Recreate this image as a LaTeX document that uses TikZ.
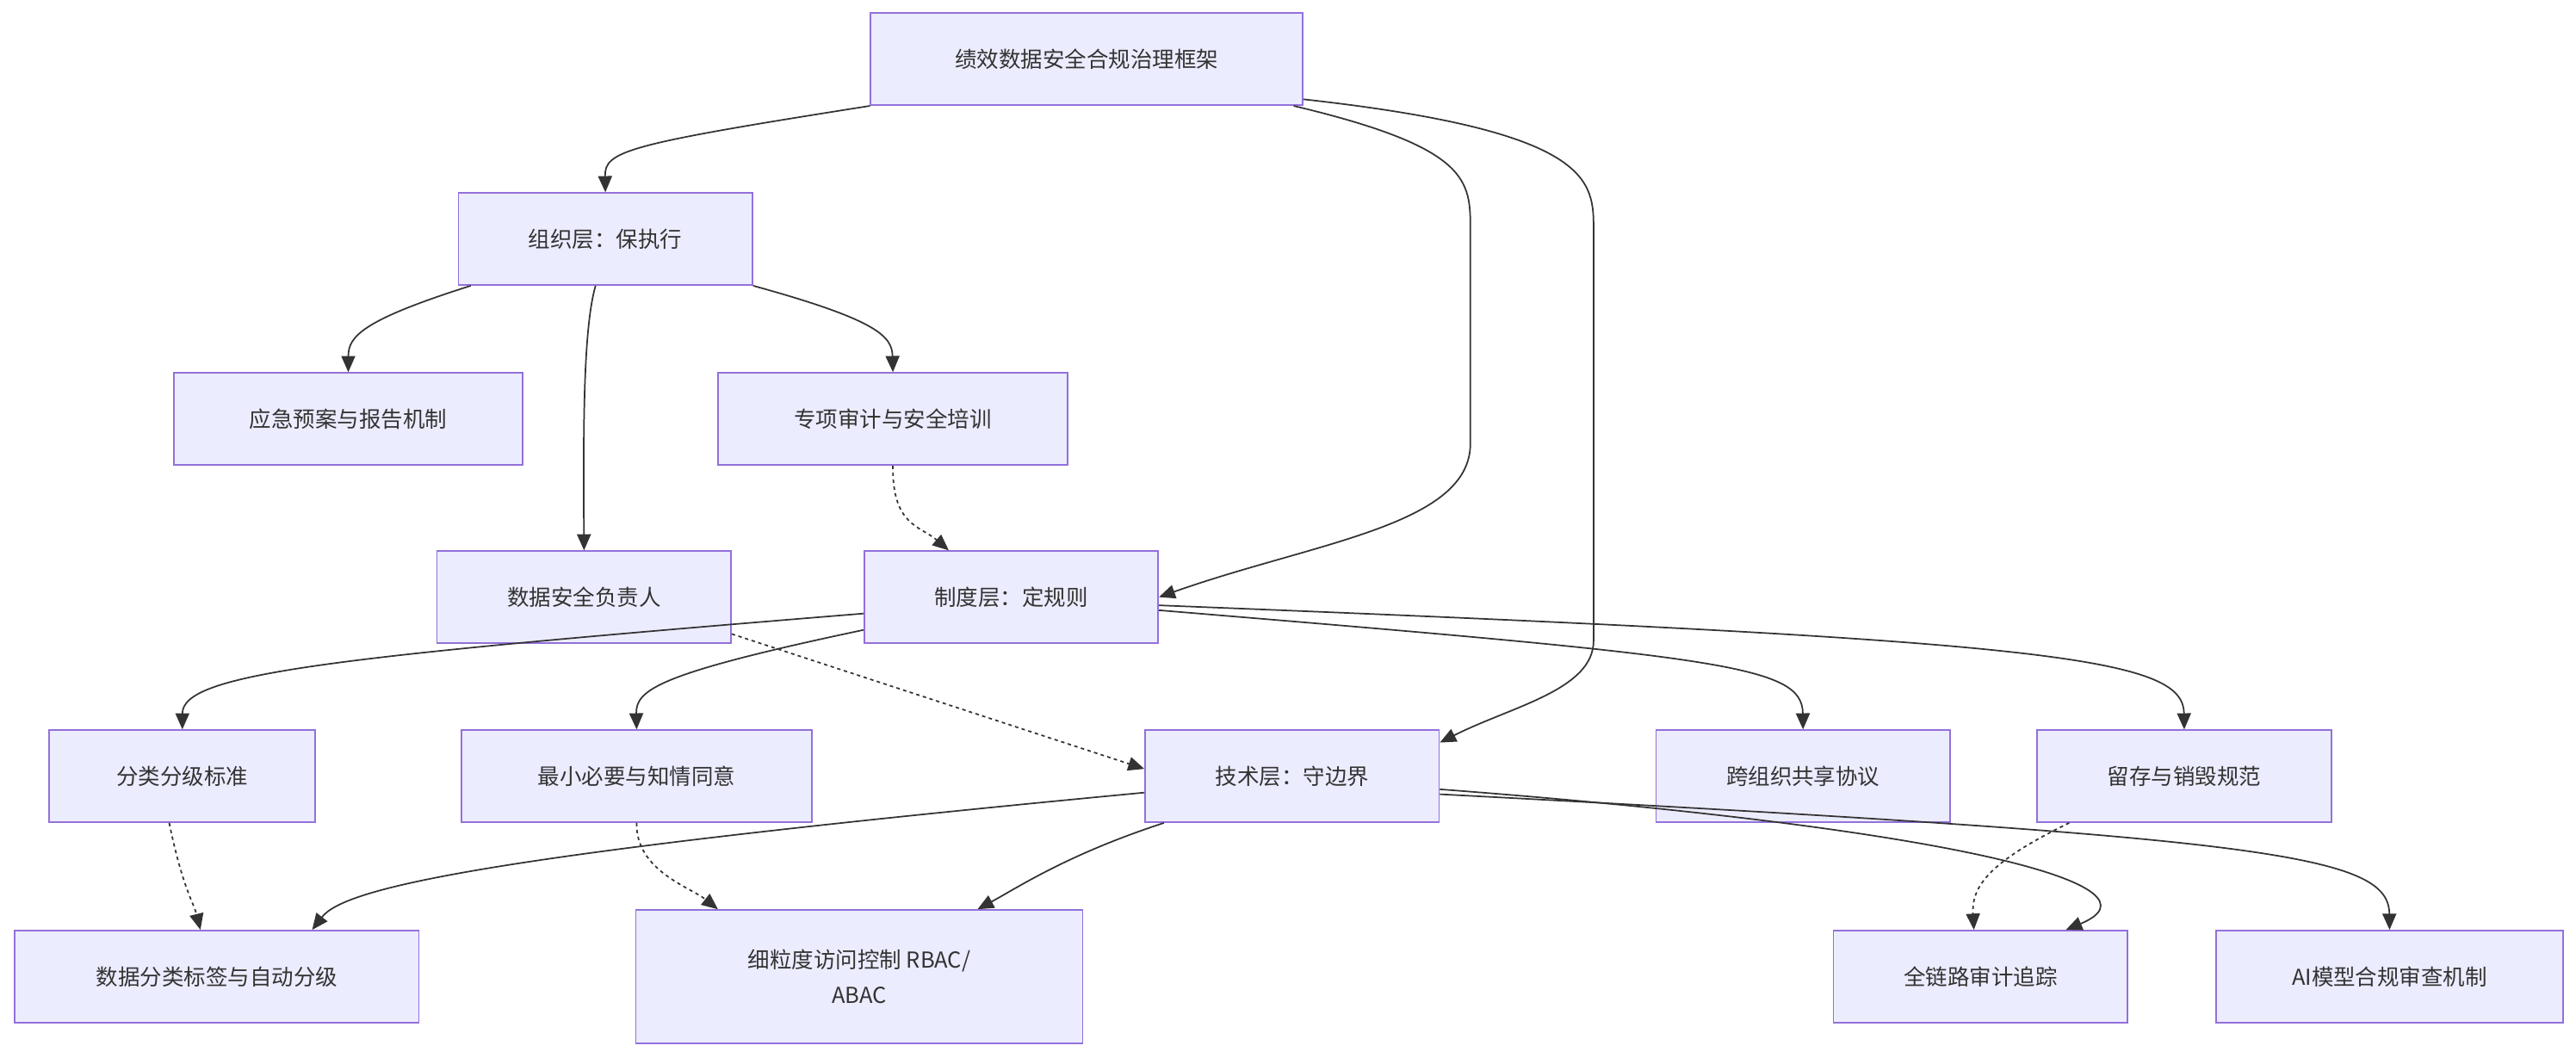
\documentclass[tikz,border=0pt]{standalone}
\usepackage{fontspec}
\setmainfont{Noto Sans CJK SC}
\usetikzlibrary{arrows.meta}
\definecolor{nfill}{HTML}{ECECFF}
\definecolor{nborder}{HTML}{9370DB}
\definecolor{ln}{HTML}{333333}
\begin{document}
\begin{tikzpicture}[x=0.05cm,y=-0.05cm,
  box/.style={draw=nborder,fill=nfill,line width=1.3pt,minimum height=2.8cm,inner sep=0pt,font=\fontsize{19}{30}\selectfont,text=ln,align=center},
  edge/.style={draw=ln,line width=1.3pt,-{Triangle[length=14pt,width=12pt]}},
  dot/.style={edge,dash pattern=on 3pt off 3pt}]
\fill[white] (0,0) rectangle (1568,644);
\useasboundingbox (0,0) rectangle (1568,644);
\node[box,minimum width=13.15cm] (top) at (661.5,36) {绩效数据安全合规治理框架};
\node[box,minimum width=8.95cm] (org) at (368.5,145.5) {组织层：保执行};
\node[box,minimum width=10.6cm] (emerg) at (212,255) {应急预案与报告机制};
\node[box,minimum width=10.65cm] (audit) at (543.5,255) {专项审计与安全培训};
\node[box,minimum width=8.95cm] (dsr) at (355.5,363.5) {数据安全负责人};
\node[box,minimum width=8.95cm] (sys) at (615.5,363.5) {制度层：定规则};
\node[box,minimum width=8.1cm] (class) at (111,472.5) {分类分级标准};
\node[box,minimum width=10.65cm] (min) at (387.5,472.5) {最小必要与知情同意};
\node[box,minimum width=8.95cm] (tech) at (786.5,472.5) {技术层：守边界};
\node[box,minimum width=8.95cm] (share) at (1097.5,472.5) {跨组织共享协议};
\node[box,minimum width=8.95cm] (retain) at (1329.5,472.5) {留存与销毁规范};
\node[box,minimum width=12.3cm] (tag) at (132,594.5) {数据分类标签与自动分级};
\node[box,minimum width=13.6cm,minimum height=4.05cm] (fine) at (523,594.5) {细粒度访问控制 RBAC/\\ABAC};
\node[box,minimum width=8.95cm] (trace) at (1205.5,594.5) {全链路审计追踪};
\node[box,minimum width=10.55cm] (ai) at (1454.5,594.5) {AI模型合规审查机制};

\draw[edge] (top.south west) .. controls (380,88) and (368,92) .. (org.north);
\draw[edge] ([xshift=-0.3cm]top.south east) .. controls (895,90) and (895,110) .. (895,140) -- (895,270) .. controls (895,320) and (800,330) .. (sys.east);
\draw[edge] ([yshift=0.2cm]top.south east) .. controls (970,80) and (970,110) .. (970,140) -- (970,390) .. controls (970,420) and (920,430) .. ([yshift=-0.4cm]tech.north east);
\draw[edge] ([xshift=0.4cm]org.south west) .. controls (220,195) and (212,205) .. (emerg.north);
\draw[edge] (org.south east) .. controls (535,195) and (543,205) .. (audit.north);
\draw[edge] ([xshift=-0.3cm]org.south) .. controls (355,200) and (355,260) .. ([xshift=0cm]dsr.north);
\draw[dot] (audit.south) .. controls (543,320) and (560,320) .. ([xshift=-1.9cm]sys.north);
\draw[dot] ([yshift=0.3cm]dsr.south east) -- ([yshift=-1.2cm]tech.north west);
\draw[edge] ([yshift=-0.5cm]sys.west) .. controls (200,400) and (111,410) .. (class.north);
\draw[edge] ([yshift=-1cm]sys.west) .. controls (400,410) and (387,420) .. (min.north);
\draw[edge] ([yshift=-0.4cm]sys.east) .. controls (1050,400) and (1097,405) .. (share.north);
\draw[edge] ([yshift=-0.25cm]sys.east) .. controls (1250,390) and (1329,400) .. (retain.north);
\draw[dot] ([xshift=-0.4cm]class.south) .. controls (111,540) and (118,550) .. ([xshift=-0.5cm]tag.north);
\draw[dot] (min.south) .. controls (387,530) and (420,540) .. ([xshift=-4.3cm]fine.north);
\draw[edge] ([yshift=-0.5cm]tech.west) .. controls (300,520) and (210,540) .. ([xshift=2.9cm]tag.north);
\draw[edge] ([xshift=-3.9cm]tech.south) .. controls (650,520) and (620,540) .. ([xshift=3.6cm]fine.north);
\draw[edge] ([yshift=-0.4cm]tech.east) .. controls (1200,505) and (1320,540) .. ([xshift=2.6cm]trace.north);
\draw[edge] ([yshift=-0.55cm]tech.east) .. controls (1380,510) and (1454,520) .. (ai.north);
\draw[dot] ([xshift=-3.5cm]retain.south) .. controls (1210,525) and (1200,540) .. ([xshift=-0.2cm]trace.north);
\end{tikzpicture}
\end{document}
